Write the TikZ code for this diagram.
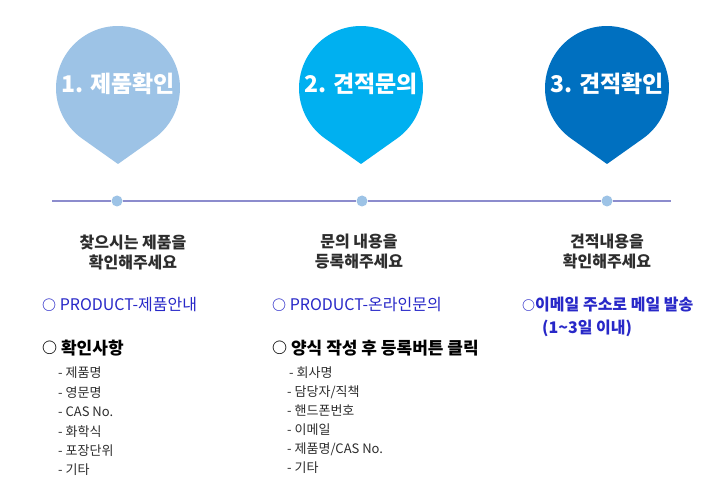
\documentclass[tikz,border=0pt]{standalone}
\usepackage{fontspec}
\setmainfont{Noto Sans CJK KR}
\usetikzlibrary{calc}
\definecolor{pinA}{HTML}{9DC3E6}
\definecolor{pinB}{HTML}{00B0F0}
\definecolor{pinC}{HTML}{0070C0}
\definecolor{lineC}{RGB}{140,140,205}
\definecolor{dotC}{HTML}{9DC3E6}
\definecolor{blueT}{RGB}{40,40,200}
\definecolor{darkT}{RGB}{45,45,45}
\newcommand\smallcirc[1]{\raisebox{0.6pt}{\fontsize{#1}{#1}\selectfont\bfseries ○}}
\newcommand\pinshape[2]{%
  \fill[#2] (#1,332) -- ($(#1,408)+(-54.7:62)$) arc[start angle=-54.7,end angle=234.7,radius=62] -- cycle;}
\begin{document}
\begin{tikzpicture}[x=1pt,y=1pt,
  pintext/.style={text=white,font=\fontsize{23}{26}\selectfont\bfseries,inner sep=0pt},
  title/.style={text=darkT,font=\fontsize{16}{20}\selectfont\bfseries,align=center,inner sep=0pt},
  bluet/.style={text=blueT,font=\fontsize{16}{18}\selectfont,anchor=west,inner sep=0pt},
  headt/.style={text=black,font=\fontsize{17}{20}\selectfont\bfseries,anchor=west,inner sep=0pt},
  itemt/.style={text=darkT,font=\fontsize{13}{15}\selectfont,anchor=west,inner sep=0pt},
  dotn/.style={circle,fill=dotC,minimum size=11pt,inner sep=0pt}]
\useasboundingbox[fill=white] (0,0) rectangle (725,496);
% pins
\pinshape{118}{pinA}
\pinshape{361}{pinB}
\pinshape{607}{pinC}
\node[pintext] (p1) at (118,412) {1. 제품확인};
\node[pintext] (p2) at (361,412) {2. 견적문의};
\node[pintext] (p3) at (607,412) {3. 견적확인};
% timeline
\coordinate (ls) at (52,295);
\coordinate (le) at (671,295);
\node[dotn] (d1) at (117,295) {};
\node[dotn] (d2) at (362,295) {};
\node[dotn] (d3) at (607,295) {};
\draw[lineC,line width=1.8pt] (ls) -- (d1) -- (d2) -- (d3) -- (le);
% column 1
\node[title] (t1) at (133,244) {찾으시는 제품을\\확인해주세요};
\node[bluet] (b1) at (42,191) {\smallcirc{14} PRODUCT-제품안내};
\node[headt] (h1) at (42,148) {\smallcirc{15} 확인사항};
\node[itemt] (i11) at (58,123) {- 제품명};
\node[itemt] (i12) at (58,103.6) {- 영문명};
\node[itemt] (i13) at (58,84.2) {- CAS No.};
\node[itemt] (i14) at (58,64.8) {- 화학식};
\node[itemt] (i15) at (58,45.4) {- 포장단위};
\node[itemt] (i16) at (58,26) {- 기타};
% column 2
\node[title] (t2) at (359,244) {문의 내용을\\등록해주세요};
\node[bluet] (b2) at (272,191) {\smallcirc{14} PRODUCT-온라인문의};
\node[headt] (h2) at (272,148) {\smallcirc{15} 양식 작성 후 등록버튼 클릭};
\node[itemt] (i21) at (289,123) {- 회사명};
\node[itemt] (i22) at (287,104) {- 담당자/직책};
\node[itemt] (i23) at (287,85) {- 핸드폰번호};
\node[itemt] (i24) at (287,66) {- 이메일};
\node[itemt] (i25) at (287,47) {- 제품명/CAS No.};
\node[itemt] (i26) at (287,28) {- 기타};
% column 3
\node[title] (t3) at (607,244) {견적내용을\\확인해주세요};
\node[bluet,font=\fontsize{16}{18}\selectfont\bfseries] (b3) at (522,191) {\smallcirc{13}이메일 주소로 메일 발송};
\node[bluet,font=\fontsize{16}{18}\selectfont\bfseries] (b3b) at (542,168) {(1\textasciitilde 3일 이내)};
\end{tikzpicture}
\end{document}
